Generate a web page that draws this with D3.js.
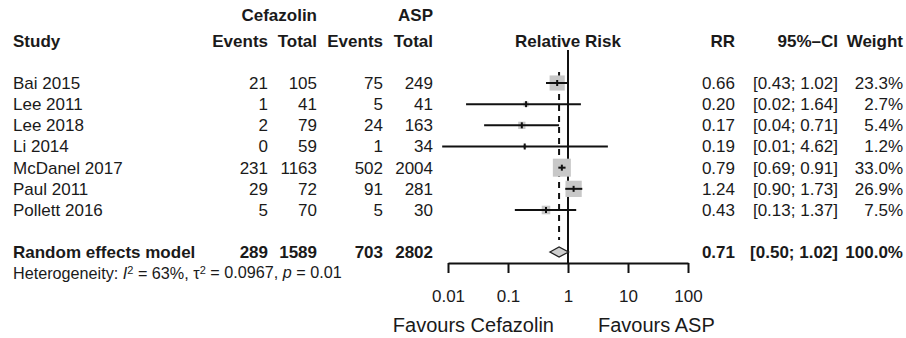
<!DOCTYPE html>
<html>
<head>
<meta charset="utf-8">
<script src="https://cdn.jsdelivr.net/npm/d3@7"></script>
<style>
  body { margin: 0; background: #fff; }
  text { font-family: "Liberation Sans", Arial, sans-serif; fill: #1a1a1a; }
</style>
</head>
<body>
<div id="chart"></div>
<script>
// study data
const studies = ["Bai 2015", "Lee 2011", "Lee 2018", "Li 2014", "McDanel 2017", "Paul 2011", "Pollett 2016"];
const cefEvents = [21, 1, 2, 0, 231, 29, 5];
const cefTotal = [105, 41, 79, 59, 1163, 72, 70];
const aspEvents = [75, 5, 24, 1, 502, 91, 5];
const aspTotal = [249, 41, 163, 34, 2004, 281, 30];
const rr = [0.66, 0.20, 0.17, 0.19, 0.79, 1.24, 0.43];
const ciLow = [0.43, 0.02, 0.04, 0.008, 0.69, 0.90, 0.13];
const ciHigh = [1.02, 1.64, 0.71, 4.62, 0.91, 1.73, 1.37];
const weight = [23.3, 2.7, 5.4, 1.2, 33.0, 26.9, 7.5];

const pooled = { events1: 289, total1: 1589, events2: 703, total2: 2802, rr: 0.71, lo: 0.50, hi: 1.02, w: 100.0 };
const tickValues = [0.01, 0.1, 1, 10, 100];
const tickLabels = ["0.01", "0.1", "1", "10", "100"];

const width = 906, height = 338;
const fs = 17;

const svg = d3.select("#chart").append("svg")
  .attr("width", width)
  .attr("height", height);

const x = d3.scaleLog().domain([0.01, 100]).range([448, 688]);
const y = d3.scaleLinear().domain([0, studies.length - 1]).range([83, 210]);
const yPooled = 252;
const yAxis = 263;
const size = d3.scaleSqrt().domain([0, 33]).range([0, 18]);

// column right edges
const col = { study: 13, e1: 268, t1: 317, e2: 383, t2: 433, rr: 735, ci: 838, w: 903 };

function txt(xp, yp, s, anchor, bold, size2) {
  return svg.append("text")
    .attr("x", xp)
    .attr("y", yp)
    .attr("dy", "0.35em")
    .attr("text-anchor", anchor || "end")
    .attr("font-size", size2 || fs)
    .attr("font-weight", bold ? "bold" : "normal")
    .text(s);
}

// headers
txt(col.t1, 15, "Cefazolin", "end", true);
txt(col.t2, 15, "ASP", "end", true);
txt(col.study, 41, "Study", "start", true);
txt(col.e1, 41, "Events", "end", true);
txt(col.t1, 41, "Total", "end", true);
txt(col.e2, 41, "Events", "end", true);
txt(col.t2, 41, "Total", "end", true);
txt(x(1), 41, "Relative Risk", "middle", true);
txt(col.rr, 41, "RR", "end", true);
txt(col.ci, 41, "95%\u2013CI", "end", true);
txt(col.w, 41, "Weight", "end", true);

const fmt = d3.format(".2f");
const fmtW = d3.format(".1f");

// study rows
studies.forEach(function (s, i) {
  const yy = y(i);
  txt(col.study, yy, s, "start");
  txt(col.e1, yy, cefEvents[i]);
  txt(col.t1, yy, cefTotal[i]);
  txt(col.e2, yy, aspEvents[i]);
  txt(col.t2, yy, aspTotal[i]);
  txt(col.rr, yy, fmt(rr[i]));
  txt(col.ci, yy, "[" + fmt(ciLow[i]) + "; " + fmt(ciHigh[i]) + "]");
  txt(col.w, yy, fmtW(weight[i]) + "%");
});

// pooled row
txt(col.study, yPooled, "Random effects model", "start", true);
txt(col.e1, yPooled, pooled.events1, "end", true);
txt(col.t1, yPooled, pooled.total1, "end", true);
txt(col.e2, yPooled, pooled.events2, "end", true);
txt(col.t2, yPooled, pooled.total2, "end", true);
txt(col.rr, yPooled, fmt(pooled.rr), "end", true);
txt(col.ci, yPooled, "[" + fmt(pooled.lo) + "; " + fmt(pooled.hi) + "]", "end", true);
txt(col.w, yPooled, fmtW(pooled.w) + "%", "end", true);

// heterogeneity line
const het = svg.append("text")
  .attr("x", col.study)
  .attr("y", 273)
  .attr("dy", "0.35em")
  .attr("font-size", 16.2);
het.append("tspan").text("Heterogeneity: ");
het.append("tspan").attr("font-style", "italic").text("I");
het.append("tspan").attr("font-size", 11).attr("dy", "-0.45em").text("2");
het.append("tspan").attr("dy", "0.3em").text(" = 63%, \u03c4");
het.append("tspan").attr("font-size", 11).attr("dy", "-0.45em").text("2");
het.append("tspan").attr("dy", "0.3em").text(" = 0.0967, ");
het.append("tspan").attr("font-style", "italic").text("p");
het.append("tspan").text(" = 0.01");

// reference lines
svg.append("line")
  .attr("x1", x(1)).attr("x2", x(1))
  .attr("y1", 50).attr("y2", yAxis)
  .attr("stroke", "#111").attr("stroke-width", 2);

svg.append("line")
  .attr("x1", x(pooled.rr)).attr("x2", x(pooled.rr))
  .attr("y1", 72).attr("y2", 240)
  .attr("stroke", "#111").attr("stroke-width", 2)
  .attr("stroke-dasharray", "6,5");

// squares
svg.selectAll(".sq")
  .data(studies)
  .enter()
  .append("rect")
  .attr("class", "sq")
  .attr("x", function (d, i) { return x(rr[i]) - size(weight[i]) / 2; })
  .attr("y", function (d, i) { return y(i) - size(weight[i]) / 2; })
  .attr("width", function (d, i) { return size(weight[i]); })
  .attr("height", function (d, i) { return size(weight[i]); })
  .attr("fill", "#c8c8c8");

// CI lines
svg.selectAll(".ci")
  .data(studies)
  .enter()
  .append("line")
  .attr("class", "ci")
  .attr("x1", function (d, i) { return x(ciLow[i]); })
  .attr("x2", function (d, i) { return x(ciHigh[i]); })
  .attr("y1", function (d, i) { return y(i); })
  .attr("y2", function (d, i) { return y(i); })
  .attr("stroke", "#111")
  .attr("stroke-width", 2);

// point estimate ticks
svg.selectAll(".pt")
  .data(studies)
  .enter()
  .append("line")
  .attr("class", "pt")
  .attr("x1", function (d, i) { return x(rr[i]); })
  .attr("x2", function (d, i) { return x(rr[i]); })
  .attr("y1", function (d, i) { return y(i) - 3; })
  .attr("y2", function (d, i) { return y(i) + 3; })
  .attr("stroke", "#111")
  .attr("stroke-width", 2);

// pooled diamond
const dpts = [
  [x(pooled.lo), yPooled],
  [x(pooled.rr), yPooled - 5],
  [x(pooled.hi), yPooled],
  [x(pooled.rr), yPooled + 5]
];
svg.append("polygon")
  .attr("points", dpts.map(function (p) { return p.join(","); }).join(" "))
  .attr("fill", "#cfcfcf")
  .attr("stroke", "#222")
  .attr("stroke-width", 1.3);

// axis
const axis = d3.axisBottom(x)
  .tickValues(tickValues)
  .tickFormat(function (d, i) { return tickLabels[i]; })
  .tickSizeOuter(0)
  .tickSizeInner(10)
  .tickPadding(17);

const ag = svg.append("g")
  .attr("transform", "translate(0," + yAxis + ")")
  .call(axis);
ag.select(".domain").attr("stroke", "#111").attr("stroke-width", 2);
ag.selectAll(".tick line").attr("stroke", "#111").attr("stroke-width", 2);
ag.selectAll(".tick text")
  .attr("font-size", fs)
  .attr("font-family", "Liberation Sans, Arial, sans-serif")
  .attr("fill", "#1a1a1a");

txt(554, 324.5, "Favours Cefazolin", "end", false, 20);
txt(598, 324.5, "Favours ASP", "start", false, 20);
</script>
</body>
</html>
